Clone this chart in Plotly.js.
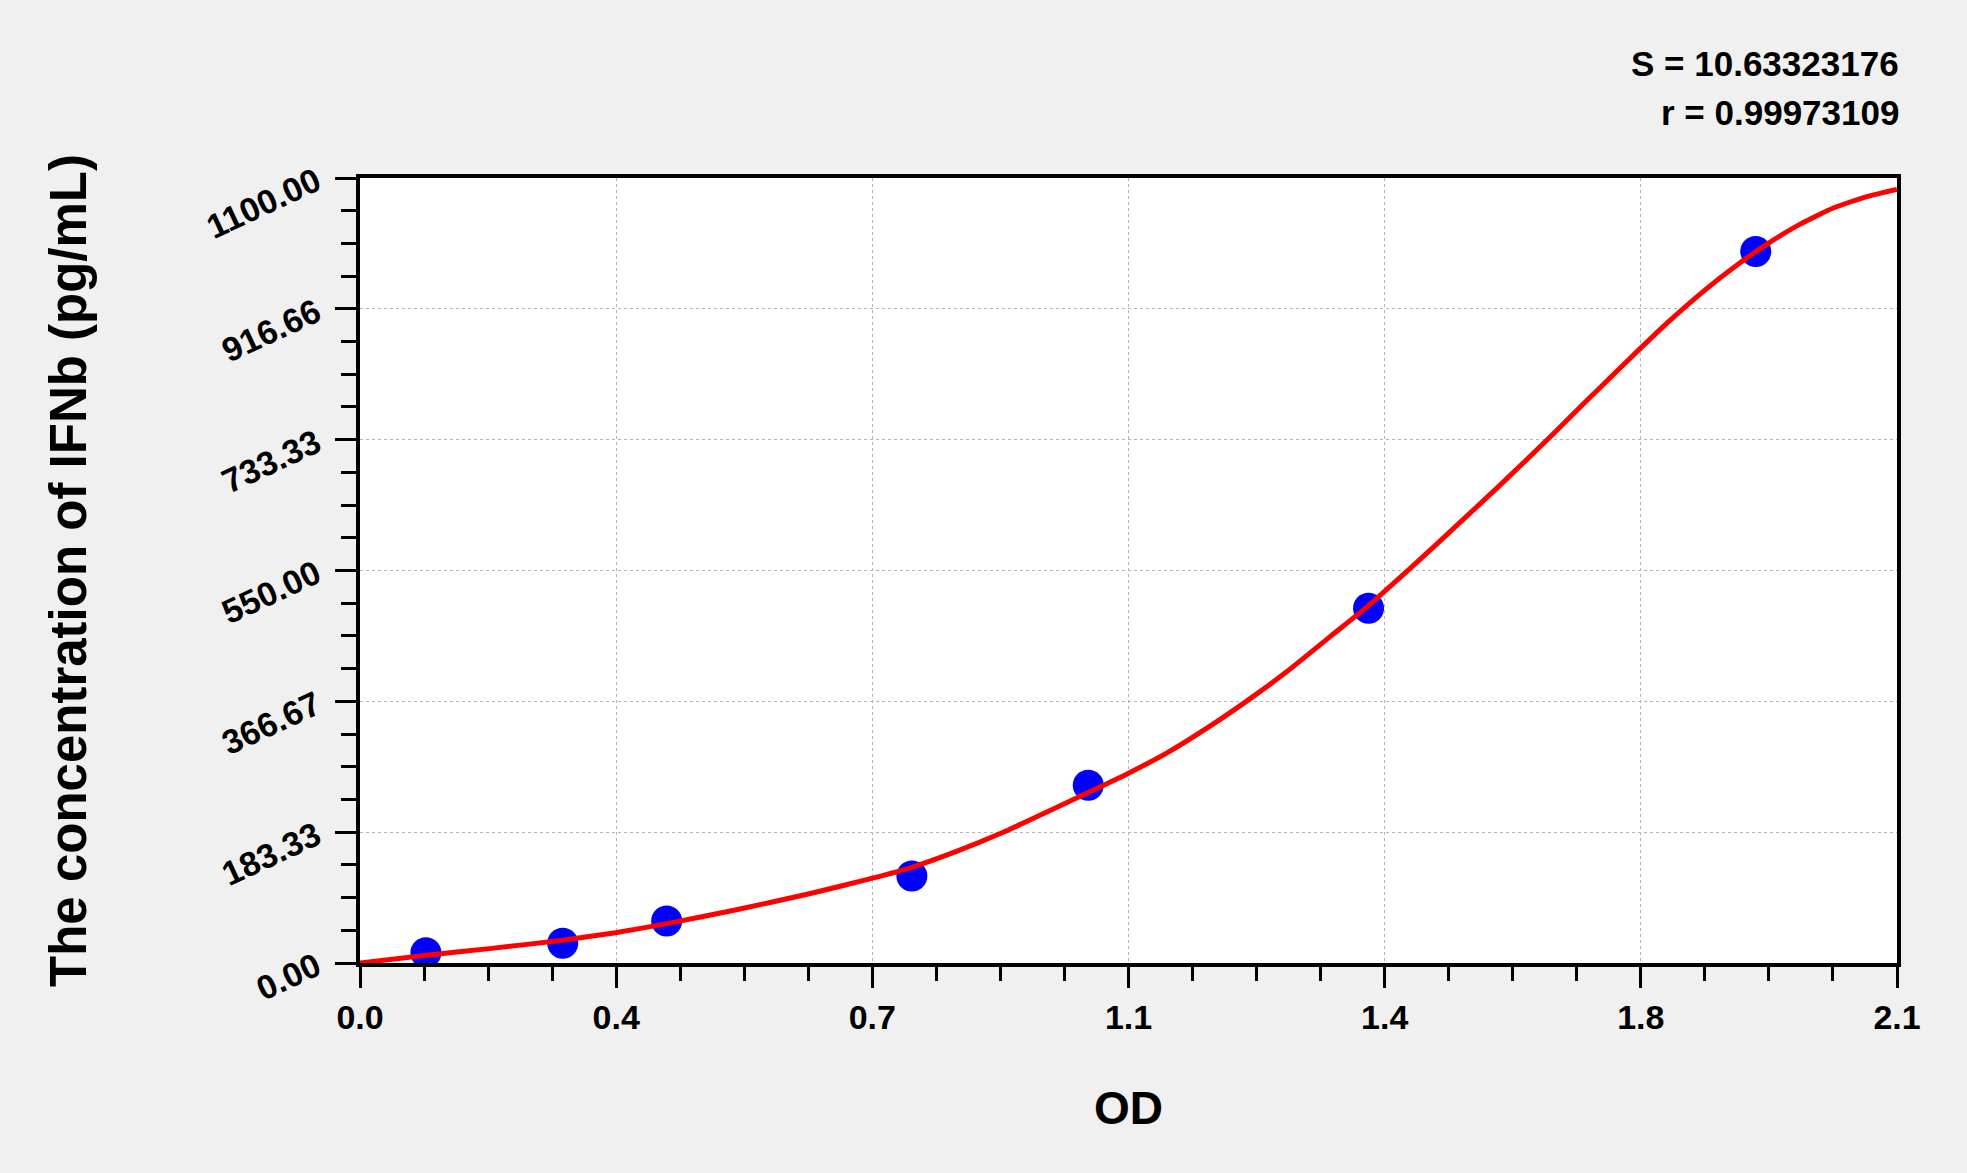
<!DOCTYPE html>
<html>
<head>
<meta charset="utf-8">
<script src="https://cdn.plot.ly/plotly-3.0.1.min.js"></script>
<style>
  html, body { margin: 0; padding: 0; background: #f0f0f0; }
  #chart { width: 1967px; height: 1173px; }
</style>
</head>
<body>
<div id="chart"></div>
<script>
// Standard points (OD vs concentration)
const odValues   = [0.090, 0.277, 0.419, 0.754, 0.995, 1.378, 1.907];
const concValues = [14.4, 27.6, 58.8, 121.9, 249, 497, 997];

// Fitted curve
const curveOD   = [0, 0.091, 0.18, 0.277, 0.349, 0.421, 0.516, 0.614, 0.699, 0.754, 0.814, 0.874, 0.995, 1.048, 1.102, 1.166, 1.221, 1.266, 1.325, 1.376, 1.398, 1.467, 1.558, 1.626, 1.671, 1.722, 1.745, 1.785, 1.840, 1.876, 1.922, 1.967, 2.013, 2.059, 2.1];
const curveConc = [0, 11, 20.5, 32, 42.5, 55.5, 75, 97, 118.5, 134, 156, 181, 239, 265, 294, 335, 374, 408, 457, 499, 519, 583, 670, 737, 783, 834, 857, 896, 945, 974, 1007, 1035, 1058, 1074, 1084];

// Axis ticks
const xTickVals  = [0, 0.35, 0.7, 1.05, 1.4, 1.75, 2.1];
const xTickText  = ['0.0', '0.4', '0.7', '1.1', '1.4', '1.8', '2.1'];
const yTickVals  = [0, 183.333, 366.667, 550, 733.333, 916.667, 1100];
const yTickText  = ['0.00', '183.33', '366.67', '550.00', '733.33', '916.66', '1100.00'];

const statLines = ['S = 10.63323176', 'r = 0.99973109'];

const FONT = 'Liberation Sans, Arial, Helvetica, sans-serif';

const traces = [
  {
    x: odValues, y: concValues, type: 'scatter', mode: 'markers',
    marker: { color: '#0000ff', size: 31, line: { width: 0 } },
    hoverinfo: 'x+y'
  },
  {
    x: curveOD, y: curveConc, type: 'scatter', mode: 'lines',
    line: { color: '#ff0000', width: 5, shape: 'spline', smoothing: 0.5 },
    hoverinfo: 'skip'
  }
];

const axisCommon = {
  showline: true, linecolor: '#000', linewidth: 4, mirror: true,
  ticks: 'outside', tickcolor: '#000', tickwidth: 3, ticklen: 21,
  showgrid: true, gridcolor: '#b4b4b4', gridwidth: 1, griddash: 'dot',
  zeroline: false,
  tickfont: { family: FONT, size: 34, color: '#000', weight: 'bold' }
};

const layout = {
  width: 1967, height: 1173,
  paper_bgcolor: '#f0f0f0', plot_bgcolor: '#ffffff',
  margin: { l: 360, r: 70, t: 178, b: 210 },
  showlegend: false,
  font: { family: FONT, color: '#000' },
  xaxis: Object.assign({}, axisCommon, {
    range: [0, 2.1],
    tickmode: 'array', tickvals: xTickVals, ticktext: xTickText,
    ticklabelstandoff: 0,
    minor: { tickmode: 'linear', tick0: 0, dtick: 0.0875, ticks: 'outside', ticklen: 14, tickwidth: 3, tickcolor: '#000', showgrid: false },
    title: { text: 'OD', font: { family: FONT, size: 46, color: '#000', weight: 'bold' }, standoff: 58 }
  }),
  yaxis: Object.assign({}, axisCommon, {
    range: [0, 1100],
    tickmode: 'array', tickvals: yTickVals, ticktext: yTickText,
    tickangle: -25,
    ticklabelstandoff: 12,
    minor: { tickmode: 'linear', tick0: 0, dtick: 45.8333, ticks: 'outside', ticklen: 15, tickwidth: 3, tickcolor: '#000', showgrid: false },
    title: { text: 'The concentration of IFNb (pg/mL)', font: { family: FONT, size: 51, color: '#000', weight: 'bold' }, standoff: 99 }
  }),
  annotations: [
    { xref: 'paper', yref: 'paper', x: 1, y: 1, xanchor: 'right', yanchor: 'bottom', yshift: 93, xshift: 4,
      text: statLines[0], showarrow: false, align: 'right',
      font: { family: FONT, size: 35, color: '#000', weight: 'bold' } },
    { xref: 'paper', yref: 'paper', x: 1, y: 1, xanchor: 'right', yanchor: 'bottom', yshift: 44, xshift: 4,
      text: statLines[1], showarrow: false, align: 'right',
      font: { family: FONT, size: 35, color: '#000', weight: 'bold' } }
  ]
};

Plotly.newPlot('chart', traces, layout, { displayModeBar: false, staticPlot: true });
</script>
</body>
</html>
